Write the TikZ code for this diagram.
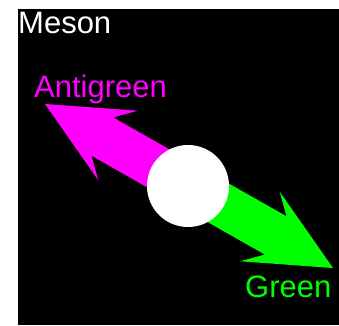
\documentclass[tikz,border=0pt]{standalone}
\usepackage{fontspec}
\setmainfont{Liberation Sans}
\definecolor{mag}{RGB}{255,0,255}
\definecolor{grn}{RGB}{0,255,0}
\tikzset{
  lbl/.style={inner sep=0pt, anchor=base west, font=\fontsize{31}{31}\selectfont},
  arrowshape/.pic={
    \fill[pic actions] (0,0) -- (84,40) -- (66,22) -- (166,22) -- (166,-22) -- (66,-22) -- (84,-40) -- cycle;
  }
}
\begin{document}
\begin{tikzpicture}[x=1pt,y=1pt]
\useasboundingbox (0,0) rectangle (339,325);
\fill[white] (0,0) rectangle (339,325);
\fill[black] (18,0) rectangle (339,316);
% arrows
\pic[fill=mag] at (45,221) [rotate=-29.6] {arrowshape};
\pic[fill=grn] at (333,57) [rotate=150.4] {arrowshape};
\node[circle, fill=white, minimum size=82pt, inner sep=0pt] (q) at (188,139) {};
% labels
\node[lbl, text=white] (meson) at (18,292) {Meson};
\node[lbl, text=mag] (anti) at (34,228) {Antigreen};
\node[lbl, text=grn] (green) at (245,28) {Green};
\end{tikzpicture}
\end{document}
